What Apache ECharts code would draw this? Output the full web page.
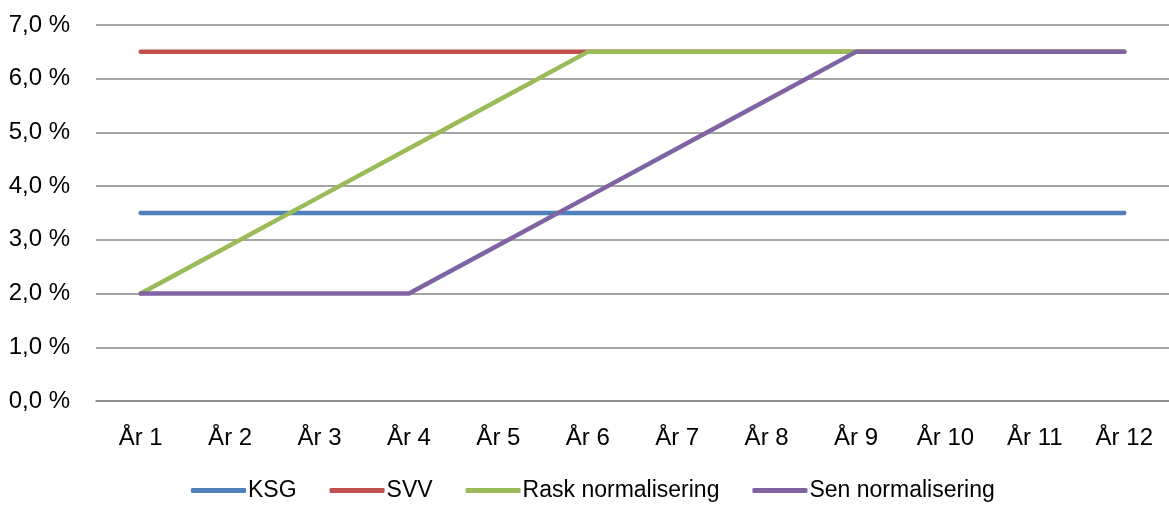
<!DOCTYPE html>
<html>
<head>
<meta charset="utf-8">
<script src="https://cdn.jsdelivr.net/npm/echarts@6/dist/echarts.min.js"></script>
<style>
html,body{margin:0;padding:0;background:#fff;}
#c{width:1169px;height:505px;}
</style>
</head>
<body>
<div id="c"></div>
<script>
const categories = ['År 1','År 2','År 3','År 4','År 5','År 6','År 7','År 8','År 9','År 10','År 11','År 12'];
const ksg = [3.5,3.5,3.5,3.5,3.5,3.5,3.5,3.5,3.5,3.5,3.5,3.5];
const svv = [6.5,6.5,6.5,6.5,6.5,6.5,6.5,6.5,6.5,6.5,6.5,6.5];
const rask = [2.0,2.9,3.8,4.7,5.6,6.5,6.5,6.5,6.5,6.5,6.5,6.5];
const sen = [2.0,2.0,2.0,2.0,2.9,3.8,4.7,5.6,6.5,6.5,6.5,6.5];
const seriesNames = ['KSG','SVV','Rask normalisering','Sen normalisering'];
const colors = ['#4F81BD','#C0504D','#9BBB59','#8064A2'];

const FONT = "'Liberation Sans Narrow', 'Liberation Sans', sans-serif";
const chart = echarts.init(document.getElementById('c'), null, {renderer:'canvas'});
const mk = (name, data, i) => ({
  name, type:'line', data, symbol:'none', smooth:false,
  lineStyle:{width:4.5, color:colors[i], cap:'round', join:'round'},
  itemStyle:{color:colors[i]}, z: 2+i
});
chart.setOption({
  animation:false,
  color: colors,
  textStyle:{fontFamily:FONT},
  grid:{left:96, right:-6, top:25, bottom:104, containLabel:false},
  xAxis:{
    type:'category', data:categories, boundaryGap:true,
    axisLine:{show:true, lineStyle:{color:'#868686', width:1.5}},
    axisTick:{show:false},
    axisLabel:{color:'#000', fontSize:24, fontFamily:FONT, margin:25, interval:0}
  },
  yAxis:{
    type:'value', min:0, max:7, interval:1,
    axisLine:{show:false}, axisTick:{show:false},
    splitLine:{lineStyle:{color:'#868686', width:1.5}},
    axisLabel:{color:'#000', fontSize:24, fontFamily:FONT, margin:26,
      formatter: v => v.toFixed(1).replace('.', ',') + ' %'}
  },
  legend:{
    top:474, left:186, itemWidth:55, itemHeight:5, itemGap:33,
    icon:'roundRect',
    textStyle:{color:'#000', fontSize:23, fontFamily:FONT, padding:[0,0,0,-3]},
    data: seriesNames
  },
  series:[mk(seriesNames[0], ksg, 0), mk(seriesNames[1], svv, 1), mk(seriesNames[2], rask, 2), mk(seriesNames[3], sen, 3)]
});
</script>
</body>
</html>
